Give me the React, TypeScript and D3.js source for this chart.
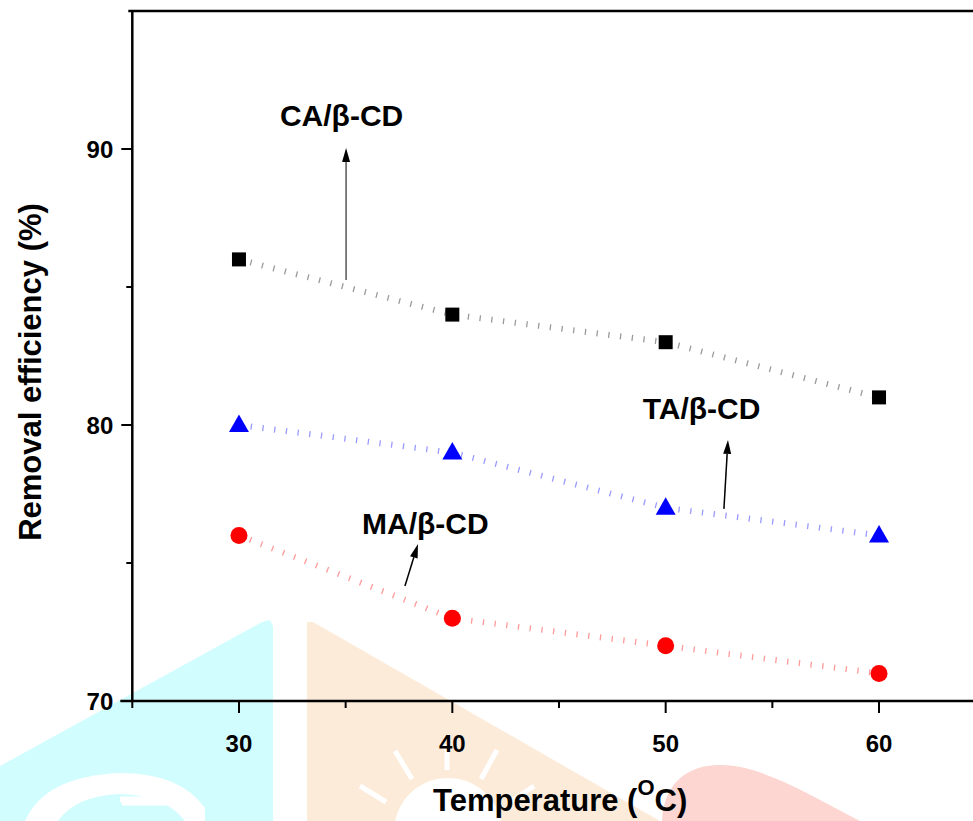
import React from 'react';
import * as d3 from 'd3';

const temperatures = [30, 40, 50, 60];
const caValues = [86, 84, 83, 81];
const taValues = [80, 79, 77, 76];
const maValues = [76, 73, 72, 71];
const xTicks = [30, 40, 50, 60];
const xMinorTicks = [35, 45, 55];
const yTicks = [70, 80, 90];
const yMinorTicks = [75, 85];

const labelTexts = ['CA/β-CD', 'TA/β-CD', 'MA/β-CD'];
const labelX = [31.92, 48.92, 35.77];
const labelY = [90.83, 80.22, 76.05];
const arrowFromX = [35.02, 52.73, 37.78];
const arrowFromY = [85.25, 76.96, 74.17];
const arrowToX = [35.02, 52.92, 38.39];
const arrowToY = [90.04, 79.46, 75.69];

const W = 973;
const H = 821;
const FONT = "'Liberation Sans', Arial, Helvetica, sans-serif";

export default function App() {
  const x = d3.scaleLinear().domain([25, 65]).range([132.3, 985.7]);
  const y = d3.scaleLinear().domain([70, 95]).range([701, 11]);
  const x0 = x(25);
  const x1 = x(65);
  const yb = y(70);
  const yt = y(95);

  const line = d3
    .line<[number, number]>()
    .x((d) => x(d[0]))
    .y((d) => y(d[1]));

  const series = [
    { values: caValues, color: '#000', dot: '#9a9a9a', shape: 'square' },
    { values: taValues, color: '#0000ff', dot: '#9a9aff', shape: 'triangle' },
    { values: maValues, color: '#ff0000', dot: '#ff9a9a', shape: 'circle' },
  ];

  const sym = (shape: string, px: number, py: number, color: string, key: string) => {
    if (shape === 'square') return <rect key={key} x={px - 7} y={py - 7} width={14} height={14} fill={color} />;
    if (shape === 'triangle')
      return <path key={key} d={`M${px},${py - 10.5}L${px + 10},${py + 7}L${px - 10},${py + 7}Z`} fill={color} />;
    return <circle key={key} cx={px} cy={py} r={8.5} fill={color} />;
  };

  return (
    <svg
      width={W}
      height={H}
      style={{ position: 'absolute', left: 0, top: 0, background: '#fff' }}
      fontFamily={FONT}
    >
      {/* background watermark shapes */}
      <g>
        <path d="M0,766 L262,622 L270,620 L273,626 L273,821 L0,821 Z" fill="#d2fdfe" />
        <path d="M25,821 Q45,776 120,773 Q180,773 205,808 L205,821 L185,821 Q165,795 120,794 Q75,796 58,821 Z" fill="#fff" />
        <path d="M120,801 L190,801" stroke="#fff" strokeWidth={9} />
        <circle cx={113} cy={806} r={9} fill="#d2fdfe" />
        <path d="M307,622 L313,622 L660,821 L307,821 Z" fill="#fdebda" />
        <circle cx={448} cy={832} r={54} fill="#fff" />
        <g stroke="#fff" strokeWidth={5} strokeLinecap="butt">
          <line x1={395} y1={751} x2={412} y2={779} />
          <line x1={447} y1={744} x2={447} y2={770} />
          <line x1={497} y1={750} x2={481} y2={779} />
          <line x1={360} y1={786} x2={386} y2={802} />
          <line x1={534} y1={786} x2={510} y2={802} />
        </g>
        <path d="M662,821 C664,782 688,765 720,765 C760,765 805,792 860,821 Z" fill="#fdd6d1" />
      </g>

      {/* dotted connecting lines */}
      {series.map((s, i) => (
        <path
          key={'l' + i}
          d={line(temperatures.map((t, j) => [t, s.values[j]] as [number, number])) || ''}
          fill="none"
          stroke={s.dot}
          strokeWidth={6}
          strokeDasharray="1.3 10.5"
        />
      ))}

      {/* axes */}
      <g stroke="#000" fill="none">
        <line x1={x0 - 4} y1={yt} x2={x1} y2={yt} strokeWidth={2.5} />
        <line x1={x0} y1={yt} x2={x0} y2={yb} strokeWidth={2.5} />
        <line x1={x0 - 12} y1={yb} x2={x1} y2={yb} strokeWidth={2.5} />
        <line x1={x1} y1={yt} x2={x1} y2={yb} strokeWidth={2.5} />
        {xTicks.map((t) => (
          <line key={'xt' + t} x1={x(t)} y1={yb} x2={x(t)} y2={yb + 12} strokeWidth={2} />
        ))}
        {xMinorTicks.map((t) => (
          <line key={'xm' + t} x1={x(t)} y1={yb} x2={x(t)} y2={yb + 7} strokeWidth={2} />
        ))}
        <line x1={x0} y1={yb} x2={x0} y2={yb + 7} strokeWidth={2} />
        {yTicks.map((t) => (
          <line key={'yt' + t} x1={x0 - 11} y1={y(t)} x2={x0} y2={y(t)} strokeWidth={2} />
        ))}
        {yMinorTicks.map((t) => (
          <line key={'ym' + t} x1={x0 - 6} y1={y(t)} x2={x0} y2={y(t)} strokeWidth={2} />
        ))}
      </g>

      {/* tick labels */}
      <g fontWeight="bold" fontSize={24} fill="#000">
        {xTicks.map((t) => (
          <text key={'xl' + t} x={x(t)} y={yb + 51} textAnchor="middle">
            {t}
          </text>
        ))}
        {yTicks.map((t) => (
          <text key={'yl' + t} x={x0 - 19} y={y(t) + 8.5} textAnchor="end">
            {t}
          </text>
        ))}
      </g>

      {/* axis titles */}
      <text x={433} y={811} fontWeight="bold" fontSize={31} fill="#000">
        Temperature (
        <tspan fontSize={22} dy={-16}>O</tspan>
        <tspan dy={16}>C)</tspan>
      </text>
      <text
        transform={`translate(41, ${372}) rotate(-90)`}
        textAnchor="middle"
        fontWeight="bold"
        fontSize={31}
        fill="#000"
      >
        Removal efficiency (%)
      </text>

      {/* markers */}
      {series.map((s, i) =>
        temperatures.map((t, j) => sym(s.shape, x(t), y(s.values[j]), s.color, `m${i}-${j}`))
      )}

      {/* annotations */}
      {labelTexts.map((txt, i) => {
        const fx = x(arrowFromX[i]);
        const fy = y(arrowFromY[i]);
        const tx = x(arrowToX[i]);
        const ty = y(arrowToY[i]);
        const ang = Math.atan2(ty - fy, tx - fx);
        const hl = 14;
        const hw = 4;
        const bx = tx - hl * Math.cos(ang);
        const by = ty - hl * Math.sin(ang);
        const px = -Math.sin(ang) * hw;
        const py = Math.cos(ang) * hw;
        return (
          <g key={'a' + i}>
            <line x1={fx} y1={fy} x2={bx} y2={by} stroke={i === 0 ? '#555' : '#000'} strokeWidth={1.5} />
            <path d={`M${tx},${ty}L${bx + px},${by + py}L${bx - px},${by - py}Z`} fill="#000" />
            <text x={x(labelX[i])} y={y(labelY[i])} fontWeight="bold" fontSize={30} fill="#000">
              {txt}
            </text>
          </g>
        );
      })}
    </svg>
  );
}
